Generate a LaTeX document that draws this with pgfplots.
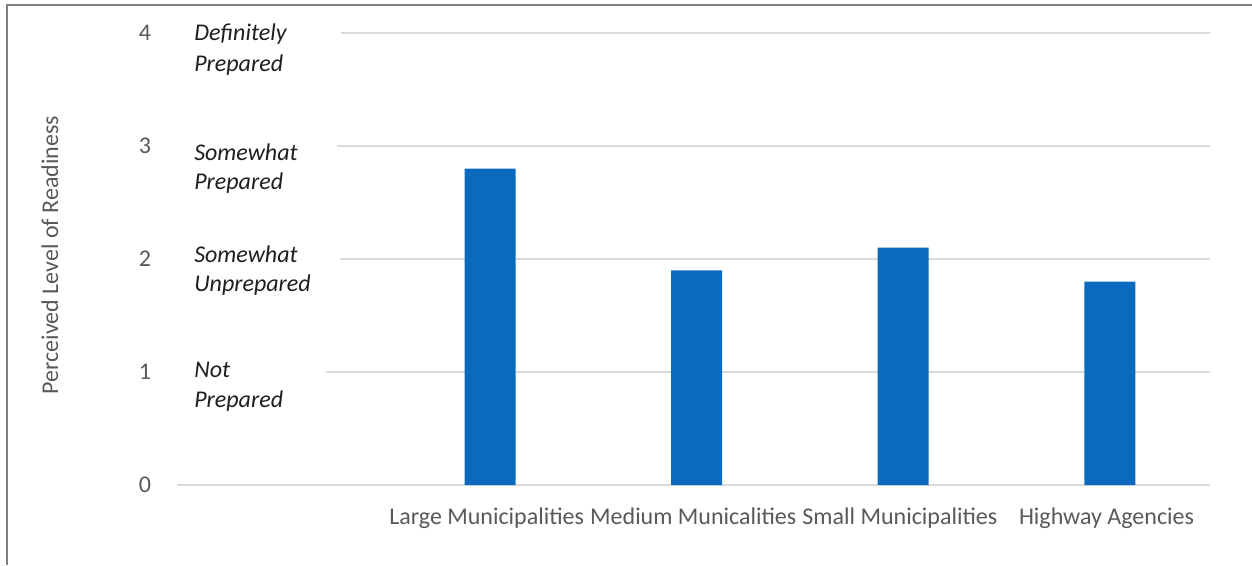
\documentclass[border=0pt]{standalone}
\usepackage{pgfplots}
\pgfplotsset{compat=1.18}
\usepackage{fontspec}
\setmainfont{Carlito}
\definecolor{barblue}{RGB}{10,107,190}
\definecolor{txtgray}{RGB}{89,89,89}
\definecolor{gridgray}{RGB}{217,217,217}
\definecolor{framegray}{RGB}{128,128,128}

\begin{document}
\begin{tikzpicture}
\useasboundingbox (0pt,0pt) rectangle (939pt,423.75pt);
\begin{axis}[
  at={(132.75pt,60pt)}, anchor=south west,
  width=774.75pt, height=339pt, scale only axis,
  ybar, bar width=38.25pt,
  xmin=-0.515, xmax=4.485, ymin=0, ymax=4,
  xtick={0,1,2,3,4},
  xticklabels={,Large Municipalities,Medium Municalities,Small Municipalities,Highway Agencies},
  ytick={0,1,2,3,4},
  ymajorgrids, grid style={gridgray, line width=1.1pt},
  axis line style={draw=none},
  major tick length=0pt,
  /pgf/number format/assume math mode=true,
  xticklabel style={font=\fontsize{18}{21}\selectfont, text=txtgray, yshift=-13.5pt, xshift=-2.5pt},
  yticklabel style={font=\fontsize{18}{21}\selectfont, text=txtgray, xshift=-16pt},
  clip=false,
]
\addplot[fill=barblue, draw=none] coordinates {(1,2.8) (2,1.9) (3,2.1) (4,1.8)};
\end{axis}

% scale descriptions sit in white text boxes over the start of the gridlines
\begin{scope}[x=0.75pt,y=0.75pt]
\fill[white] (170,540) rectangle (341,510);
\fill[white] (170,430) rectangle (337,405);
\fill[white] (170,318) rectangle (340,292);
\fill[white] (170,205) rectangle (326,180);

\begin{scope}[every node/.style={anchor=west, inner sep=0pt, text=black!88,
    font=\itshape\fontsize{18}{21}\selectfont}]
  \node at (194,531) {Definitely};
  \node at (194,500) {Prepared};
  \node at (194,413) {Somewhat};
  \node at (194,382) {Prepared};
  \node at (194,311) {Somewhat};
  \node at (194,280) {Unprepared};
  \node at (194,195) {Not};
  \node at (194,164) {Prepared};
\end{scope}

\node[rotate=90, text=txtgray, font=\fontsize{18}{21}\selectfont] at (50,310) {Perceived Level of Readiness};

\draw[framegray, line width=1.1pt] (7,0) -- (7,560) -- (1252,560);
\end{scope}
\end{tikzpicture}
\end{document}
